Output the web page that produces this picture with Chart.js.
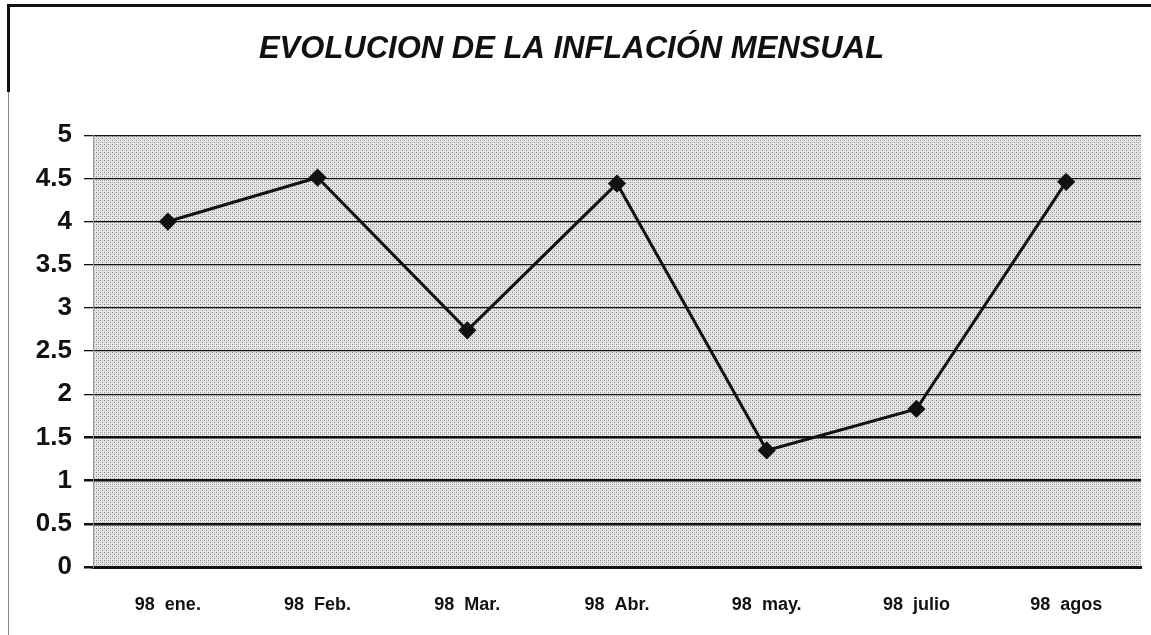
<!DOCTYPE html>
<html>
<head>
<meta charset="utf-8">
<script src="https://cdn.jsdelivr.net/npm/chart.js@4.4.0/dist/chart.umd.min.js"></script>
<style>
    html, body { margin: 0; padding: 0; background: #fff; }
    #wrap { position: relative; width: 1151px; height: 635px; }
    #frame {
        position: absolute; left: 8px; top: 4px; right: 0; bottom: 0;
        border-top: 3px solid #111; border-left: 1px solid #888;
    }
    #frame-top { position: absolute; left: 7px; top: 4px; width: 3px; height: 88px; background: #111; }
    canvas { position: absolute; left: 0; top: 0; }
</style>
</head>
<body>
<div id="wrap">
    <div id="frame"></div>
    <div id="frame-top"></div>
    <canvas id="chart" width="1151" height="635"></canvas>
</div>
<script>
// datos
const meses = ['98  ene.', '98  Feb.', '98  Mar.', '98  Abr.', '98  may.', '98  julio', '98  agos'];
const inflacion = [4.0, 4.51, 2.74, 4.44, 1.35, 1.83, 4.46];
const titulo = 'EVOLUCION DE LA INFLACIÓN MENSUAL';

// fondo punteado del area del grafico
function makePattern() {
    const c = document.createElement('canvas');
    c.width = 4; c.height = 4;
    const ctx = c.getContext('2d');
    ctx.fillStyle = '#e6e6e6';
    ctx.fillRect(0, 0, 4, 4);
    ctx.fillStyle = '#8e8e8e';
    ctx.fillRect(0, 0, 1, 1);
    ctx.fillRect(2, 2, 1, 1);
    ctx.fillStyle = '#bdbdbd';
    ctx.fillRect(2, 0, 1, 1);
    ctx.fillRect(0, 2, 1, 1);
    return ctx.createPattern(c, 'repeat');
}

const areaFondo = {
    id: 'areaFondo',
    beforeDraw(chart) {
        const { ctx, chartArea: a } = chart;
        ctx.save();
        ctx.fillStyle = makePattern();
        ctx.fillRect(a.left, a.top, a.right - a.left, a.bottom - a.top);
        ctx.restore();
    }
};

const fuente = 'Liberation Sans, Arial, sans-serif';

// eslint-disable-next-line no-undef
new Chart(document.getElementById('chart'), {
    type: 'line',
    data: {
        labels: meses,
        datasets: [{
            label: 'Inflación mensual',
            data: inflacion,
            borderColor: '#111',
            backgroundColor: '#111',
            borderWidth: 3,
            pointStyle: 'rectRot',
            pointRadius: 7,
            pointHoverRadius: 7,
            fill: false,
            tension: 0
        }]
    },
    options: {
        responsive: false,
        animation: false,
        layout: { padding: { left: 0, right: 8, top: 0, bottom: 0 } },
        plugins: {
            legend: { display: false },
            tooltip: { enabled: false },
            title: {
                display: true,
                text: titulo,
                color: '#111',
                font: { family: fuente, size: 31, weight: 'bold', style: 'italic' },
                padding: { top: 31, bottom: 67 }
            }
        },
        scales: {
            x: {
                offset: true,
                afterFit(scale) { scale.height = 68; },
                grid: { display: false },
                border: { display: true, color: '#111', width: 3 },
                ticks: {
                    color: '#111',
                    padding: 19,
                    maxRotation: 0,
                    font: { family: fuente, size: 18, weight: 'bold' }
                }
            },
            y: {
                min: 0,
                max: 5,
                afterFit(scale) { scale.width = 93; },
                border: { display: true, color: '#999', width: 1 },
                grid: {
                    color: '#111',
                    lineWidth: ctx => (ctx.tick && ctx.tick.value <= 1.5 ? 2.5 : 1.3),
                    tickLength: 9
                },
                ticks: {
                    stepSize: 0.5,
                    color: '#111',
                    padding: 12,
                    callback: v => String(v),
                    font: { family: fuente, size: 26, weight: 'bold' }
                }
            }
        }
    },
    plugins: [areaFondo]
});
</script>
</body>
</html>
